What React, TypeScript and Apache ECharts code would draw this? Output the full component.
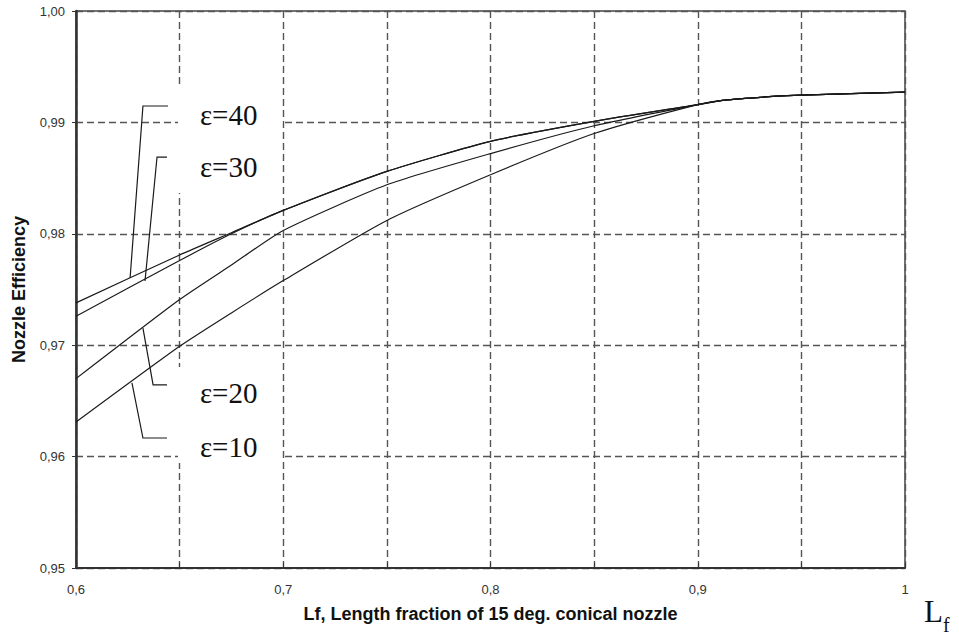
import React, { useEffect, useRef } from "react";
import * as echarts from "echarts";

// Length fraction (x) values
const lengthFraction = [0.6, 0.65, 0.675, 0.7, 0.75, 0.8, 0.85, 0.9, 0.913, 0.938, 0.95, 1.0];
// Nozzle efficiency for each area ratio
const eps40 = [0.9738, 0.9781, 0.9801, 0.9821, 0.9856, 0.9883, 0.9901, 0.9916, 0.992, 0.99235, 0.99245, 0.99272];
const eps30 = [0.9726, 0.9776, 0.98, 0.9821, 0.9856, 0.9883, 0.9901, 0.9916, 0.992, 0.99235, 0.99245, 0.99272];
const eps20 = [0.967, 0.9741, 0.9772, 0.9803, 0.9844, 0.9872, 0.9897, 0.9916, 0.992, 0.99235, 0.99245, 0.99272];
const eps10 = [0.9631, 0.9699, 0.9729, 0.9758, 0.9812, 0.9853, 0.989, 0.9916, 0.992, 0.99235, 0.99245, 0.99272];

const seriesNames = ["ε=40", "ε=30", "ε=20", "ε=10"];
const seriesValues = [eps40, eps30, eps20, eps10];

// Annotation label anchors (data coordinates)
const labelAnchors = [
  [0.6598, 0.99062],
  [0.6598, 0.98602],
  [0.6598, 0.96571],
  [0.6598, 0.96086],
];
// Leader lines (data coordinates)
const leaderLines = [
  [[0.6444, 0.99147], [0.6323, 0.99147], [0.6261, 0.97603]],
  [[0.6439, 0.98689], [0.6391, 0.98689], [0.6333, 0.97576]],
  [[0.6323, 0.97154], [0.6372, 0.96643], [0.6439, 0.96643]],
  [[0.627, 0.96661], [0.6323, 0.96167], [0.6439, 0.96167]],
];
// White boxes behind the labels (data coordinates, corner pairs)
const labelBoxes = [
  [[0.6492, 0.99318], [0.6989, 0.98366]],
  [[0.6492, 0.96804], [0.6989, 0.95943]],
];

const X_MIN = 0.6;
const X_MAX = 1.0;
const Y_MIN = 0.95;
const Y_MAX = 1.0;

export default function App() {
  const ref = useRef<HTMLDivElement>(null);

  useEffect(() => {
    document.body.style.margin = "0";
    if (!ref.current) return;
    const chart = echarts.init(ref.current, null, { renderer: "svg" });
    const gridDash = { color: "#555", width: 1.4, type: [7, 4] as any };
    const option: any = {
      animation: false,
      backgroundColor: "#fff",
      grid: {
        left: 76,
        right: 54,
        top: 11,
        bottom: 69,
        show: true,
        borderColor: "#444",
        borderWidth: 1.5,
      },
      xAxis: {
        type: "value",
        min: X_MIN,
        max: X_MAX,
        interval: 0.05,
        name: "Lf, Length fraction of 15 deg. conical nozzle",
        nameLocation: "middle",
        nameGap: 37,
        nameTextStyle: {
          fontFamily: "Liberation Sans, Arial",
          fontWeight: "bold",
          fontSize: 18,
          color: "#111",
        },
        axisLine: { show: true, lineStyle: { color: "#333", width: 2 } },
        axisTick: { show: true, inside: true, length: 5, lineStyle: { color: "#333", width: 1 } },
        axisLabel: {
          margin: 15,
          fontFamily: "Liberation Sans, Arial",
          fontSize: 13,
          color: "#333",
          formatter: (v: number) => {
            const t = v * 10;
            if (Math.abs(t - Math.round(t)) > 1e-6) return "";
            if (Math.abs(v - 1) < 1e-9) return "1";
            return v.toFixed(1).replace(".", ",");
          },
        },
        splitLine: { show: true, lineStyle: gridDash },
      },
      yAxis: {
        type: "value",
        min: Y_MIN,
        max: Y_MAX,
        interval: 0.01,
        name: "Nozzle Efficiency",
        nameLocation: "middle",
        nameGap: 48,
        nameTextStyle: {
          fontFamily: "Liberation Sans, Arial",
          fontWeight: "bold",
          fontSize: 18,
          color: "#111",
        },
        axisLine: { show: true, lineStyle: { color: "#333", width: 2.5 } },
        axisTick: { show: true, inside: false, length: 4, lineStyle: { color: "#333", width: 1 } },
        axisLabel: {
          margin: 11,
          fontFamily: "Liberation Sans, Arial",
          fontSize: 13,
          color: "#333",
          formatter: (v: number) => v.toFixed(2).replace(".", ","),
        },
        splitLine: { show: true, lineStyle: gridDash },
      },
      series: seriesNames.map((name, i) => ({
        name,
        type: "line",
        data: lengthFraction.map((x, j) => [x, seriesValues[i][j]]),
        showSymbol: false,
        symbol: "none",
        smooth: 0.2,
        lineStyle: { color: "#1a1a1a", width: 1.2 },
        z: 3,
      })),
    };
    chart.setOption(option);

    const px = (p: number[]) => chart.convertToPixel({ gridIndex: 0 }, p) as number[];
    const graphics: any[] = [];
    labelBoxes.forEach(([a, b]) => {
      const p1 = px(a);
      const p2 = px(b);
      graphics.push({
        type: "rect",
        shape: { x: p1[0], y: p1[1], width: p2[0] - p1[0], height: p2[1] - p1[1] },
        style: { fill: "#fff" },
        z: 1,
      });
    });
    leaderLines.forEach((pts) => {
      graphics.push({
        type: "polyline",
        shape: { points: pts.map((p) => px(p)) },
        style: { stroke: "#1a1a1a", lineWidth: 1.2, fill: null },
        z: 4,
      });
    });
    labelAnchors.forEach((p, i) => {
      const q = px(p);
      graphics.push({
        type: "text",
        x: q[0],
        y: q[1],
        style: {
          text: seriesNames[i],
          fontFamily: "Liberation Serif, Times New Roman, serif",
          fontSize: 29,
          fill: "#111",
          align: "left",
          verticalAlign: "middle",
        },
        z: 4,
      });
    });
    const corner = px([X_MAX, Y_MIN]);
    graphics.push({
      type: "text",
      x: corner[0] + 19,
      y: corner[1] + 43,
      style: {
        text: "L",
        fontFamily: "Liberation Serif, Times New Roman, serif",
        fontSize: 31,
        fill: "#111",
        align: "left",
        verticalAlign: "middle",
      },
      z: 4,
    });
    graphics.push({
      type: "text",
      x: corner[0] + 38,
      y: corner[1] + 57,
      style: {
        text: "f",
        fontFamily: "Liberation Serif, Times New Roman, serif",
        fontSize: 20,
        fill: "#111",
        align: "left",
        verticalAlign: "middle",
      },
      z: 4,
    });
    chart.setOption({ graphic: graphics });

    return () => chart.dispose();
  }, []);

  return <div ref={ref} style={{ width: 959, height: 637 }} />;
}
